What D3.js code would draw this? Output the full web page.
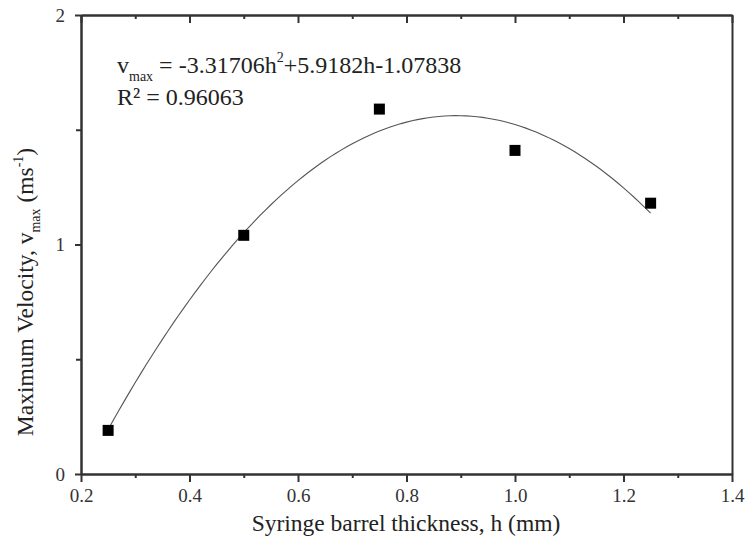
<!DOCTYPE html>
<html><head><meta charset="utf-8">
<script src="https://cdn.jsdelivr.net/npm/d3@7"></script>
</head><body style="margin:0;background:#fff"><svg id="c" width="747" height="542" style="display:block"></svg>
<script>
const thickness = [0.25, 0.5, 0.75, 1.0, 1.25];
const vmax = [0.19, 1.04, 1.59, 1.41, 1.18];
const fitCoef = [-3.31706, 5.9182, -1.07838]; // a h^2 + b h + c
const xTicks = [0.2, 0.4, 0.6, 0.8, 1.0, 1.2, 1.4];
const xMinor = [0.3, 0.5, 0.7, 0.9, 1.1, 1.3];
const yTicks = [0, 1, 2];
const yMinor = [0.5, 1.5];

const FONT = '"Liberation Serif"';
const svg = d3.select("#c");
const L = 81, R = 732, T = 15, B = 474;
const x = d3.scaleLinear().domain([0.2, 1.4]).range([L, R]);
const y = d3.scaleLinear().domain([0, 2]).range([B, T]);
const axisCol = "#333";

const gb = svg.append("g").attr("transform", `translate(0,${B})`);
gb.call(d3.axisBottom(x).tickValues(xTicks).tickSize(8).tickSizeOuter(0).tickFormat(d3.format(".1f")));
gb.append("g").call(d3.axisBottom(x).tickValues(xMinor).tickSize(4).tickSizeOuter(0).tickFormat(""));
const gt = svg.append("g").attr("transform", `translate(0,${T})`);
gt.call(d3.axisBottom(x).tickValues(xTicks).tickSize(8).tickSizeOuter(0).tickFormat(""));
gt.append("g").call(d3.axisBottom(x).tickValues(xMinor).tickSize(4).tickSizeOuter(0).tickFormat(""));
const gl = svg.append("g").attr("transform", `translate(${L},0)`);
gl.call(d3.axisLeft(y).tickValues(yTicks).tickSize(6).tickSizeOuter(0).tickFormat(d3.format("d")));
gl.append("g").call(d3.axisLeft(y).tickValues(yMinor).tickSize(5).tickSizeOuter(0).tickFormat(""));
svg.append("g").attr("transform", `translate(${R},0)`)
  .call(d3.axisRight(y).tickValues([]).tickSizeOuter(0));

svg.selectAll(".domain").attr("stroke", axisCol).attr("stroke-width", 2);
svg.selectAll(".tick line").attr("stroke", axisCol).attr("stroke-width", 2);
svg.selectAll(".tick text").attr("font-size", 19).attr("fill", "#333");
gb.selectAll(".tick text").attr("y", 28).attr("dy", 0);
gl.selectAll(".tick text").attr("x", -16).attr("dy", "0.33em");

const curvePts = d3.range(0, 101).map(i => {
  const h = 0.25 + i * 0.01;
  return [h, fitCoef[0] * h * h + fitCoef[1] * h + fitCoef[2]];
});
svg.append("path").datum(curvePts)
  .attr("fill", "none").attr("stroke", "#555").attr("stroke-width", 1.1)
  .attr("d", d3.line().x(d => x(d[0])).y(d => y(d[1])));

const s = 11;
svg.selectAll("rect.pt").data(thickness).join("rect").attr("class", "pt")
  .attr("x", (d) => x(d) - s / 2).attr("y", (d, i) => y(vmax[i]) - s / 2)
  .attr("width", s).attr("height", s).attr("fill", "#000");

const eq = svg.append("text").attr("x", 117).attr("y", 73).attr("font-size", 24).attr("fill", "#222");
eq.append("tspan").text("v");
eq.append("tspan").attr("font-size", 14).attr("dy", 8).text("max");
eq.append("tspan").attr("dy", -8).text(" = -3.31706h");
eq.append("tspan").attr("font-size", 14).attr("dy", -11).text("2");
eq.append("tspan").attr("dy", 11).text("+5.9182h-1.07838");
svg.append("text").attr("x", 117).attr("y", 105).attr("font-size", 24).attr("fill", "#222").text("R² = 0.96063");

svg.append("text").attr("x", 406).attr("y", 531).attr("text-anchor", "middle").attr("fill", "#222")
  .attr("font-size", 23.5).text("Syringe barrel thickness, h (mm)");

const yl = svg.append("text").attr("transform", "translate(33,292) rotate(-90)").attr("fill", "#222")
  .attr("text-anchor", "middle").attr("font-size", 23.5);
yl.append("tspan").text("Maximum Velocity, ");
yl.append("tspan").text("v");
yl.append("tspan").attr("font-size", 14).attr("dy", 7).text("max");
yl.append("tspan").attr("dy", -7).text(" (ms");
yl.append("tspan").attr("font-size", 14).attr("dy", -10).text("-1");
yl.append("tspan").attr("dy", 10).text(")");

svg.selectAll("text").style("font-family", FONT);
</script></body></html>
